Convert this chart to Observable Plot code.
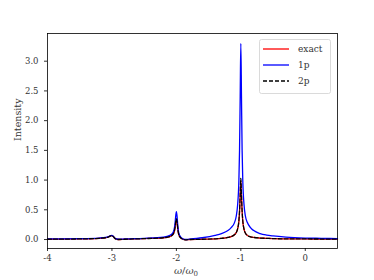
<!DOCTYPE html>
<html><head><meta charset="utf-8">
<script src="https://cdn.jsdelivr.net/npm/d3@7"></script>
<script src="https://cdn.jsdelivr.net/npm/@observablehq/plot@0.6"></script>
<style>body{margin:0;background:#fff}</style>
</head><body><div id="chart"></div>
<script>
const omega = [-4,-3.5,-3.2,-3.1,-3.05,-3.02,-3.0,-2.98,-2.95,-2.9,-2.8,-2.5,-2.2,-2.1,-2.05,-2.03,-2.02,-2.01,-2.0,-1.99,-1.98,-1.97,-1.95,-1.9,-1.85,-1.8,-1.6,-1.4,-1.3,-1.2,-1.15,-1.1,-1.07,-1.05,-1.03,-1.02,-1.01,-1.0,-0.99,-0.98,-0.97,-0.95,-0.93,-0.9,-0.85,-0.8,-0.7,-0.6,-0.5,-0.3,0,0.25,0.5];
const onePhoton = [0.01,0.015,0.025,0.035,0.05,0.065,0.07,0.055,0.02,0.005,0.01,0.02,0.04,0.07,0.12,0.2,0.28,0.4,0.47,0.4,0.26,0.15,0.07,0.01,0.0,0.005,0.03,0.07,0.1,0.15,0.2,0.28,0.4,0.58,1.0,1.5,2.4,3.3,2.4,1.5,1.0,0.58,0.4,0.29,0.2,0.15,0.1,0.075,0.06,0.04,0.025,0.02,0.015];
const twoPhoton = [0.005,0.01,0.02,0.03,0.045,0.06,0.065,0.05,0.015,0.0,0.005,0.015,0.03,0.05,0.09,0.15,0.21,0.3,0.35,0.3,0.2,0.12,0.05,0.005,-0.005,0.0,0.005,0.012,0.02,0.035,0.05,0.08,0.12,0.18,0.32,0.48,0.75,1.03,0.75,0.48,0.32,0.17,0.11,0.07,0.045,0.035,0.025,0.02,0.015,0.012,0.01,0.008,0.006];
const exact = [0.005,0.01,0.02,0.03,0.045,0.06,0.065,0.05,0.015,0.0,0.005,0.015,0.03,0.05,0.085,0.14,0.2,0.28,0.32,0.28,0.19,0.11,0.05,0.005,-0.005,0.0,0.005,0.012,0.02,0.035,0.05,0.08,0.12,0.18,0.31,0.47,0.73,0.98,0.73,0.47,0.31,0.17,0.11,0.07,0.045,0.035,0.025,0.02,0.015,0.012,0.01,0.008,0.006];
const xTicks = [-4,-3,-2,-1,0];
const yTicks = [0,0.5,1.0,1.5,2.0,2.5,3.0];
const seriesNames = ["exact","1p","2p"];
const seriesColors = ["#ff0000","#0000ff","#000000"];

const rows = omega.map((w,i)=>({w, exact: exact[i], p1: onePhoton[i], p2: twoPhoton[i]}));

const font = "'DejaVu Serif', 'Liberation Serif', serif";
const chart = Plot.plot({
  width: 374, height: 280,
  marginLeft: 47, marginRight: 37, marginTop: 33, marginBottom: 32,
  style: {fontFamily: font, fontSize: "8.5px", background: "#fff", color: "#333"},
  x: {domain: [-4, 0.5], ticks: xTicks, tickFormat: d => String(d), tickSize: 3, tickPadding: 3, label: null},
  y: {domain: [-0.151, 3.466], ticks: yTicks, tickFormat: d => d.toFixed(1), tickSize: 3, tickPadding: 6, label: null},
  marks: [
    Plot.line(rows, {x: "w", y: "exact", stroke: seriesColors[0], strokeWidth: 1.3, curve: "monotone-x"}),
    Plot.line(rows, {x: "w", y: "p1", stroke: seriesColors[1], strokeWidth: 1.3, curve: "monotone-x"}),
    Plot.line(rows, {x: "w", y: "p2", stroke: seriesColors[2], strokeWidth: 1.3, strokeDasharray: "4,2", curve: "monotone-x"}),
    Plot.frame({stroke: "#000", strokeWidth: 0.8}),
    Plot.text(["Intensity"], {frameAnchor: "left", dx: -30, rotate: -90, fontSize: 9.5, text: d => d})
  ]
});
document.getElementById("chart").append(chart);

const svg = d3.select(chart);
// x label
const xl = svg.append("text").attr("x", 186).attr("y", 274).attr("text-anchor", "middle")
  .attr("font-family", font).attr("font-size", 10).attr("fill", "#444");
xl.append("tspan").attr("font-style", "italic").text("ω");
xl.append("tspan").text("/");
xl.append("tspan").attr("font-style", "italic").text("ω");
xl.append("tspan").attr("font-size", 7).attr("dy", 2).text("0");

// legend
const lg = svg.append("g").attr("text-anchor", "start");
lg.append("rect").attr("x", 259.5).attr("y", 39.5).attr("width", 71).attr("height", 54).attr("rx", 2)
  .attr("fill", "#fff").attr("fill-opacity", 0.8).attr("stroke", "#d0d0d0").attr("stroke-width", 0.8);
seriesNames.forEach((name, i) => {
  const y = 49 + i * 16;
  lg.append("line").attr("x1", 263).attr("x2", 289).attr("y1", y).attr("y2", y)
    .attr("stroke", seriesColors[i]).attr("stroke-width", 1.3)
    .attr("stroke-dasharray", i === 2 ? "4,2" : null);
  lg.append("text").attr("x", 298).attr("y", y).attr("dy", "0.35em").attr("text-anchor", "start")
    .attr("font-family", font).attr("font-size", 9).attr("fill", "#333").text(name);
});
</script></body></html>
